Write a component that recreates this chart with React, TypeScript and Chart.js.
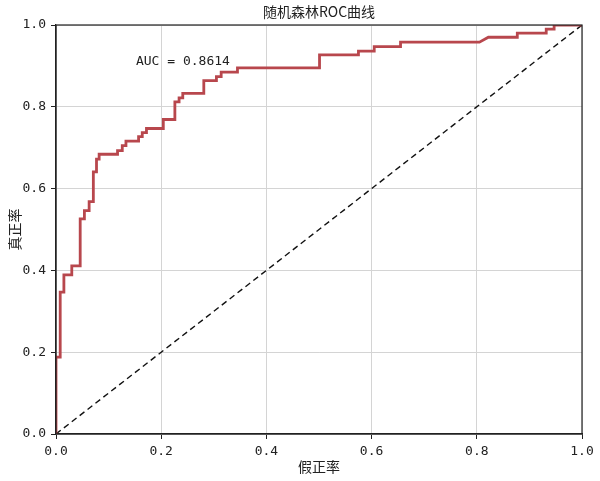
import { useEffect, useRef } from "react";
import { Chart, registerables } from "chart.js";

Chart.register(...registerables);

// ROC curve points (false positive rate / true positive rate)
const fpr = [
  0, 0, 0.008, 0.008, 0.015, 0.015, 0.03, 0.03, 0.046, 0.046, 0.054, 0.054,
  0.063, 0.063, 0.071, 0.071, 0.077, 0.077, 0.082, 0.082, 0.117, 0.117,
  0.126, 0.126, 0.133, 0.133, 0.157, 0.157, 0.164, 0.164, 0.172, 0.172,
  0.204, 0.204, 0.226, 0.226, 0.234, 0.234, 0.241, 0.241, 0.281, 0.281,
  0.305, 0.305, 0.314, 0.314, 0.345, 0.345, 0.501, 0.501, 0.575, 0.575,
  0.605, 0.605, 0.655, 0.655, 0.805, 0.822, 0.877, 0.877, 0.932, 0.932,
  0.947, 0.947, 1,
];
const tpr = [
  0, 0.188, 0.188, 0.347, 0.347, 0.389, 0.389, 0.411, 0.411, 0.526, 0.526, 0.546,
  0.546, 0.568, 0.568, 0.641, 0.641, 0.672, 0.672, 0.684, 0.684, 0.693,
  0.693, 0.705, 0.705, 0.716, 0.716, 0.727, 0.727, 0.737, 0.737, 0.747,
  0.747, 0.769, 0.769, 0.812, 0.812, 0.822, 0.822, 0.833, 0.833, 0.864,
  0.864, 0.874, 0.874, 0.885, 0.885, 0.895, 0.895, 0.927, 0.927, 0.936,
  0.936, 0.947, 0.947, 0.958, 0.958, 0.97, 0.97, 0.98, 0.98, 0.99,
  0.99, 1, 1,
];
const diagonalX = [0, 1];
const diagonalY = [0, 1];
const tickValues = [0, 0.2, 0.4, 0.6, 0.8, 1.0];

const chartTitle = "随机森林ROC曲线";
const xLabel = "假正率";
const yLabel = "真正率";
const aucText = "AUC = 0.8614";
const aucPos = { x: 0.152, y: 0.91 };

const cjkFont = '"Noto Sans CJK SC", "Noto Sans", sans-serif';
const monoFont = '"DejaVu Sans Mono", "Liberation Mono", monospace';

const decorations = {
  id: "decorations",
  afterDraw(chart: Chart) {
    const { ctx, chartArea } = chart;
    const xs = chart.scales.x;
    const ys = chart.scales.y;
    const cx = (chartArea.left + chartArea.right) / 2;
    const cy = (chartArea.top + chartArea.bottom) / 2;
    ctx.save();
    // frame
    ctx.strokeStyle = "#222";
    ctx.lineWidth = 1.2;
    ctx.strokeRect(chartArea.left, chartArea.top, chartArea.right - chartArea.left, chartArea.bottom - chartArea.top);
    // title
    ctx.fillStyle = "#222";
    ctx.textAlign = "center";
    ctx.textBaseline = "middle";
    ctx.font = `14px ${cjkFont}`;
    ctx.fillText(chartTitle, cx, 12);
    // x label
    ctx.fillText(xLabel, cx, 467);
    // y label
    ctx.save();
    ctx.translate(15, cy);
    ctx.rotate(-Math.PI / 2);
    ctx.fillText(yLabel, 0, 0);
    ctx.restore();
    // AUC text
    ctx.textAlign = "left";
    ctx.font = `13px ${monoFont}`;
    ctx.fillText(aucText, xs.getPixelForValue(aucPos.x), ys.getPixelForValue(aucPos.y));
    ctx.restore();
  },
};

export default function App() {
  const canvasRef = useRef<HTMLCanvasElement>(null);
  const chartRef = useRef<Chart | null>(null);

  useEffect(() => {
    if (!canvasRef.current) return;
    if (chartRef.current) chartRef.current.destroy();
    const ctx = canvasRef.current.getContext("2d");
    if (!ctx) return;

    const axisCommon = {
      type: "linear" as const,
      min: 0,
      max: 1,
      grid: {
        color: "#d4d4d4",
        lineWidth: 1,
        tickColor: "#222",
        tickLength: 5,
      },
      border: { display: true, color: "#222", width: 1.2 },
      ticks: {
        color: "#222",
        padding: 5,
        autoSkip: false,
        font: { family: monoFont, size: 13 },
        callback: (v: number | string) => Number(v).toFixed(1),
      },
      afterBuildTicks: (scale: any) => {
        scale.ticks = tickValues.map((value) => ({ value }));
      },
    };

    chartRef.current = new Chart(ctx, {
      type: "scatter",
      data: {
        datasets: [
          {
            label: "ROC",
            data: fpr.map((x, i) => ({ x, y: tpr[i] })),
            showLine: true,
            borderColor: "#b8474d",
            borderWidth: 2.8,
            pointRadius: 0,
            fill: false,
            tension: 0,
          },
          {
            label: "random",
            data: diagonalX.map((x, i) => ({ x, y: diagonalY[i] })),
            showLine: true,
            borderColor: "#111",
            borderWidth: 1.4,
            borderDash: [6, 4],
            pointRadius: 0,
            fill: false,
          },
        ],
      },
      options: {
        responsive: false,
        animation: false,
        devicePixelRatio: 1,
        layout: { padding: { top: 25, right: 18, left: 0, bottom: 0 } },
        plugins: {
          legend: { display: false },
          tooltip: { enabled: false },
          title: { display: false },
        },
        scales: {
          x: {
            ...axisCommon,
            afterFit: (scale: any) => {
              scale.height = 47;
            },
          },
          y: {
            ...axisCommon,
            afterFit: (scale: any) => {
              scale.width = 56;
            },
          },
        },
      },
      plugins: [decorations],
    });

    return () => {
      if (chartRef.current) {
        chartRef.current.destroy();
        chartRef.current = null;
      }
    };
  }, []);

  return (
    <div style={{ position: "absolute", left: 0, top: 0, width: 600, height: 481, background: "#fff" }}>
      <canvas ref={canvasRef} width={600} height={481}></canvas>
    </div>
  );
}
